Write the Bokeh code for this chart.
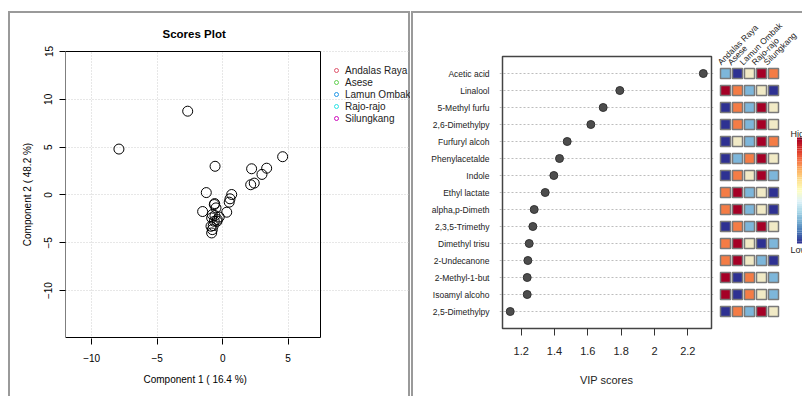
import math
from bokeh.plotting import figure
from bokeh.layouts import row
from bokeh.models import (Label, Legend, LegendItem, FixedTicker, LinearAxis,
                          ColumnDataSource, Title)
from bokeh.embed import file_html
from bokeh.resources import INLINE
from bokeh.palettes import RdYlBu11

FONT = "Liberation Sans"

# ---------------- data: scores plot ----------------
pc1 = [-2.67, -7.92, -0.58, 2.21, 3.36, 4.58, 3.00, 2.14, 2.41, -1.25,
       0.69, 0.56, 0.50, -0.61, -0.51, -1.53, 0.31, -0.79, -0.84, -0.41,
       -0.26, -0.64, -0.72, -0.79, -0.84, -0.89, -0.43, -0.59, -0.64]
pc2 = [8.76, 4.80, 3.00, 2.74, 2.80, 4.00, 2.15, 1.07, 1.24, 0.25,
       0.05, -0.40, -0.75, -0.90, -1.35, -1.73, -1.80, -2.05, -2.40, -2.57,
       -2.30, -2.75, -3.20, -3.62, -3.97, -3.27, -2.75, -2.15, -1.00]
groups = ["Andalas Raya", "Asese", "Lamun Ombak", "Rajo-rajo", "Silungkang"]
group_colors = ["#DF536B", "#61D04F", "#2297E6", "#28E2E5", "#CD0BBC"]
score_xticks = [-10, -5, 0, 5]
score_yticks = [-10, -5, 0, 5, 10, 15]

# ---------------- data: VIP plot ----------------
compounds = ["Acetic acid", "Linalool", "5-Methyl furfu", "2,6-Dimethylpy",
             "Furfuryl alcoh", "Phenylacetalde", "Indole", "Ethyl lactate",
             "alpha,p-Dimeth", "2,3,5-Trimethy", "Dimethyl trisu",
             "2-Undecanone", "2-Methyl-1-but", "Isoamyl alcoho", "2,5-Dimethylpy"]
vip = [2.293, 1.792, 1.692, 1.618, 1.476, 1.430, 1.396, 1.344,
       1.278, 1.270, 1.248, 1.240, 1.236, 1.236, 1.134]
vip_ticks = [1.2, 1.4, 1.6, 1.8, 2.0, 2.2]
# relative level (1 = low ... 5 = high) per compound, columns in `groups` order
levels = [
    [2, 1, 3, 5, 4],
    [5, 4, 2, 3, 1],
    [1, 4, 2, 5, 3],
    [1, 4, 2, 5, 3],
    [1, 3, 2, 5, 4],
    [1, 2, 4, 5, 3],
    [1, 4, 3, 5, 2],
    [4, 5, 2, 3, 1],
    [4, 5, 2, 3, 1],
    [1, 4, 2, 5, 3],
    [4, 5, 3, 1, 2],
    [4, 5, 3, 2, 1],
    [5, 1, 4, 3, 2],
    [5, 1, 4, 3, 2],
    [1, 4, 2, 5, 3],
]
heat_palette = ["#2E3192", "#7DB6DA", "#F1EAC6", "#F47C45", "#A50026"]

n = len(compounds)
ypos = [n - i for i in range(n)]

# ---------------- layout constants (pixels) ----------------
H = 396
FRAME_TOP, FRAME_BOTTOM = 50, 338          # common vertical frame of all panels
BORDER = "#9a9a9a"


def lines_bg(vlines, hlines):
    """CSS background that paints the thin panel-border lines behind the canvas."""
    parts = []
    for (x, y0, h) in vlines:
        parts.append(f"linear-gradient({BORDER},{BORDER}) {x}px {y0}px / 2px {h}px no-repeat")
    for (x0, y, w) in hlines:
        parts.append(f"linear-gradient({BORDER},{BORDER}) {x0}px {y}px / {w}px 2px no-repeat")
    return ", ".join(parts)


def extend(lo_val, hi_val, lo_px, hi_px, new_lo_px, new_hi_px):
    """Range so that lo_val/hi_val fall on lo_px/hi_px when the frame spans new_lo_px..new_hi_px."""
    k = (hi_val - lo_val) / (hi_px - lo_px)
    return lo_val - (lo_px - new_lo_px) * k, hi_val + (new_hi_px - hi_px) * k


# ================= left: scores plot =================
W1 = 410
BOX1 = dict(left=65, right=320, top=51, bottom=337)
X1 = (-12.0, 7.47)
Y1 = (-14.9, 15.0)
x1r = extend(X1[0], X1[1], BOX1["left"], BOX1["right"], BOX1["left"], W1)
ky = (Y1[1] - Y1[0]) / (BOX1["bottom"] - BOX1["top"])
y1r = (Y1[0] - (FRAME_BOTTOM - BOX1["bottom"]) * ky, Y1[1] + (BOX1["top"] - FRAME_TOP) * ky)

p1 = figure(width=W1, height=H, x_range=x1r, y_range=y1r,
            output_backend="svg", toolbar_location=None,
            min_border_left=BOX1["left"], min_border_right=0,
            min_border_top=FRAME_TOP, min_border_bottom=H - FRAME_BOTTOM)
p1.border_fill_color = None
p1.background_fill_color = None
p1.outline_line_color = None
p1.styles = {"background": lines_bg([(8, 11, 400), (408, 11, 400)], [(8, 11, 402)])}

p1.title.text = "Scores Plot"
p1.title.align = "left"
p1.title.offset = 97
p1.title.text_font = FONT
p1.title.text_font_size = "11.5px"
p1.title.text_font_style = "bold"
p1.title.text_color = "black"
p1.title.standoff = 22

for ax in (p1.xaxis[0], p1.yaxis[0]):
    ax.axis_line_color = None
    ax.major_tick_in = 0
    ax.major_tick_out = 6
    ax.major_tick_line_color = "black"
    ax.minor_tick_line_color = None
    ax.major_label_text_font = FONT
    ax.major_label_text_font_size = "10px"
    ax.major_label_text_color = "black"
    ax.axis_label_text_font = FONT
    ax.axis_label_text_font_size = "10px"
    ax.axis_label_text_font_style = "normal"
    ax.axis_label_text_color = "black"

p1.xaxis.ticker = FixedTicker(ticks=score_xticks)
p1.yaxis.ticker = FixedTicker(ticks=score_yticks)
p1.yaxis.axis_label = "Component 2 ( 48.2 %)"
p1.yaxis.major_label_orientation = "vertical"
p1.xaxis.major_label_standoff = 9
p1.yaxis.major_label_standoff = 7
p1.yaxis.axis_label_standoff = 9

# x-axis caption, centred under the plot box (not under the wider frame)
xcap = Title(text="Component 1 ( 16.4 %)", align="left", offset=78, standoff=14,
             text_font=FONT, text_font_size="10px", text_font_style="normal",
             text_color="black")
p1.add_layout(xcap, "below")

p1.xgrid.ticker = FixedTicker(ticks=score_xticks)
p1.ygrid.ticker = FixedTicker(ticks=score_yticks)
p1.xgrid.bounds = Y1
p1.ygrid.bounds = X1
for g in (p1.xgrid[0], p1.ygrid[0]):
    g.grid_line_color = "#cfcfcf"
    g.grid_line_dash = "1 2"
    g.grid_line_width = 1

# plot box
p1.quad(left=[X1[0]], right=[X1[1]], bottom=[Y1[0]], top=[Y1[1]],
        fill_color=None, line_color="black", line_width=1)

p1.scatter(pc1, pc2, marker="circle", size=10, fill_color=None,
           line_color="black", line_width=1)

items = []
for gname, col in zip(groups, group_colors):
    r = p1.scatter(x=[float("nan")], y=[float("nan")], marker="circle", size=7,
                   fill_color=None, line_color=col, line_width=1)
    items.append(LegendItem(label=gname, renderers=[r]))
legend = Legend(items=items, location=(331 - BOX1["left"], FRAME_BOTTOM - 124),
                padding=0, margin=0,
                border_line_color=None, background_fill_alpha=0,
                label_text_font=FONT, label_text_font_size="10px",
                label_text_color="#222222",
                glyph_width=10, glyph_height=12, label_height=12,
                spacing=0, label_standoff=4)
p1.add_layout(legend)

# ================= middle: VIP scores =================
W2 = 305
X0_2 = 410
BOX2 = dict(left=502, right=711, top=56, bottom=328)   # canvas-absolute px
F2_LEFT, F2_RIGHT = 499, 713
tick_px = (520.7, 687.3)                               # px of 1.2 and 2.2
kx2 = (2.2 - 1.2) / (tick_px[1] - tick_px[0])
box2_x = (1.2 - (tick_px[0] - BOX2["left"]) * kx2, 2.2 + (BOX2["right"] - tick_px[1]) * kx2)
x2r = (1.2 - (tick_px[0] - F2_LEFT) * kx2, 2.2 + (F2_RIGHT - tick_px[1]) * kx2)
unit = (BOX2["bottom"] - BOX2["top"]) / (n + 1)        # px per row
y2r = (0 - (FRAME_BOTTOM - BOX2["bottom"]) / unit, (n + 1) + (BOX2["top"] - FRAME_TOP) / unit)

p2 = figure(width=W2, height=H, x_range=x2r, y_range=y2r,
            output_backend="svg", toolbar_location=None,
            min_border_left=F2_LEFT - X0_2, min_border_right=X0_2 + W2 - F2_RIGHT,
            min_border_top=FRAME_TOP, min_border_bottom=H - FRAME_BOTTOM)
p2.border_fill_color = None
p2.background_fill_color = None
p2.outline_line_color = None
p2.styles = {"background": lines_bg([(1, 11, 400)], [(1, 11, W2)])}

p2.xaxis.ticker = FixedTicker(ticks=vip_ticks)
p2.xaxis.axis_line_color = None
p2.xaxis.major_tick_in = FRAME_BOTTOM - BOX2["bottom"]
p2.xaxis.major_tick_out = -3
p2.xaxis.major_tick_line_color = "#333333"
p2.xaxis.minor_tick_line_color = None
p2.xaxis.major_label_text_font = FONT
p2.xaxis.major_label_text_font_size = "11px"
p2.xaxis.major_label_text_color = "#222222"
p2.xaxis.major_label_standoff = 8
p2.xaxis.axis_label = "VIP scores"
p2.xaxis.axis_label_text_font = FONT
p2.xaxis.axis_label_text_font_size = "11px"
p2.xaxis.axis_label_text_font_style = "normal"
p2.xaxis.axis_label_text_color = "#222222"
p2.xaxis.axis_label_standoff = 16

p2.yaxis.ticker = FixedTicker(ticks=ypos)
p2.yaxis.major_label_overrides = {y: c for y, c in zip(ypos, compounds)}
p2.yaxis.axis_line_color = None
p2.yaxis.major_tick_in = 0
p2.yaxis.major_tick_out = 0
p2.yaxis.minor_tick_line_color = None
p2.yaxis.major_label_standoff = 10
p2.yaxis.major_label_text_font = FONT
p2.yaxis.major_label_text_font_size = "8.5px"
p2.yaxis.major_label_text_color = "#222222"

p2.xgrid.visible = False
p2.ygrid.ticker = FixedTicker(ticks=ypos)
p2.ygrid.bounds = box2_x
p2.ygrid.grid_line_color = "#bdbdbd"
p2.ygrid.grid_line_dash = "2 2"
p2.ygrid.grid_line_width = 1

p2.quad(left=[box2_x[0]], right=[box2_x[1]], bottom=[0], top=[n + 1],
        fill_color=None, line_color="#444444", line_width=1.5)

p2.scatter(vip, ypos, marker="circle", size=8, fill_color="#4d4d4d",
           line_color="#333333", line_width=1)

# ================= right: mini heatmap + colour key =================
W3 = 802 - W1 - W2
X0_3 = W1 + W2
COL_PX = 12                 # column pitch
FIRST_COL = 725             # canvas-absolute px of first column centre
hx0 = -(FIRST_COL - X0_3) / COL_PX
p3 = figure(width=W3, height=H, x_range=(hx0, hx0 + W3 / COL_PX), y_range=p2.y_range,
            output_backend="svg", toolbar_location=None,
            x_axis_location=None, y_axis_location=None,
            min_border_left=0, min_border_right=0,
            min_border_top=FRAME_TOP, min_border_bottom=H - FRAME_BOTTOM)
p3.border_fill_color = None
p3.background_fill_color = None
p3.styles = {"background": lines_bg([], [(0, 11, W3)])}
p3.outline_line_color = None
p3.xgrid.visible = False
p3.ygrid.visible = False

hx, hy, hc = [], [], []
for yi, lev in zip(ypos, levels):
    for ci, lv in enumerate(lev):
        hx.append(ci)
        hy.append(yi)
        hc.append(heat_palette[lv - 1])
src = ColumnDataSource(dict(x=hx, y=hy, c=hc))
p3.rect(x="x", y="y", width=10, height=10, width_units="screen",
        height_units="screen", fill_color="c", line_color="#7a7a7a",
        line_width=1.5, source=src)

# column headers as a rotated top axis
head_ticks = [round(i - 0.7, 2) for i in range(len(groups))]
top_axis = LinearAxis(ticker=FixedTicker(ticks=head_ticks),
                      major_label_overrides={t: g for t, g in zip(head_ticks, groups)},
                      major_label_orientation=math.pi / 4,
                      axis_line_color=None, major_tick_line_color=None,
                      minor_tick_line_color=None, major_tick_in=0, major_tick_out=0,
                      major_label_standoff=-13,
                      major_label_text_font=FONT, major_label_text_font_size="8.5px",
                      major_label_text_color="#222222")
p3.add_layout(top_axis, "above")

# colour key (High at top -> Low at bottom)
key_cols = list(reversed(RdYlBu11))
try:
    from bokeh.palettes import interp_palette
    key_cols = list(interp_palette(tuple(key_cols), 48))
except Exception:
    pass
key_x = (800 - FIRST_COL) / COL_PX
key_top = (n + 1) - (137 - BOX2["top"]) / unit
key_bottom = (n + 1) - (243 - BOX2["top"]) / unit
nk = len(key_cols)
step = (key_top - key_bottom) / nk
p3.rect(x=[key_x] * nk, y=[key_top - step * (i + 0.5) for i in range(nk)],
        width=7, width_units="screen", height=step * 1.05,
        fill_color=key_cols, line_color=None)
lab_x = (790 - FIRST_COL) / COL_PX
p3.add_layout(Label(x=lab_x, y=(n + 1) - (133 - BOX2["top"]) / unit, text="High",
                    text_align="left", text_baseline="middle", text_font=FONT,
                    text_font_size="9px", text_color="#222222"))
p3.add_layout(Label(x=lab_x, y=(n + 1) - (249 - BOX2["top"]) / unit, text="Low",
                    text_align="left", text_baseline="middle", text_font=FONT,
                    text_font_size="9px", text_color="#222222"))

layout = row(p1, p2, p3)
open("out.html", "w").write(file_html(layout, INLINE))
